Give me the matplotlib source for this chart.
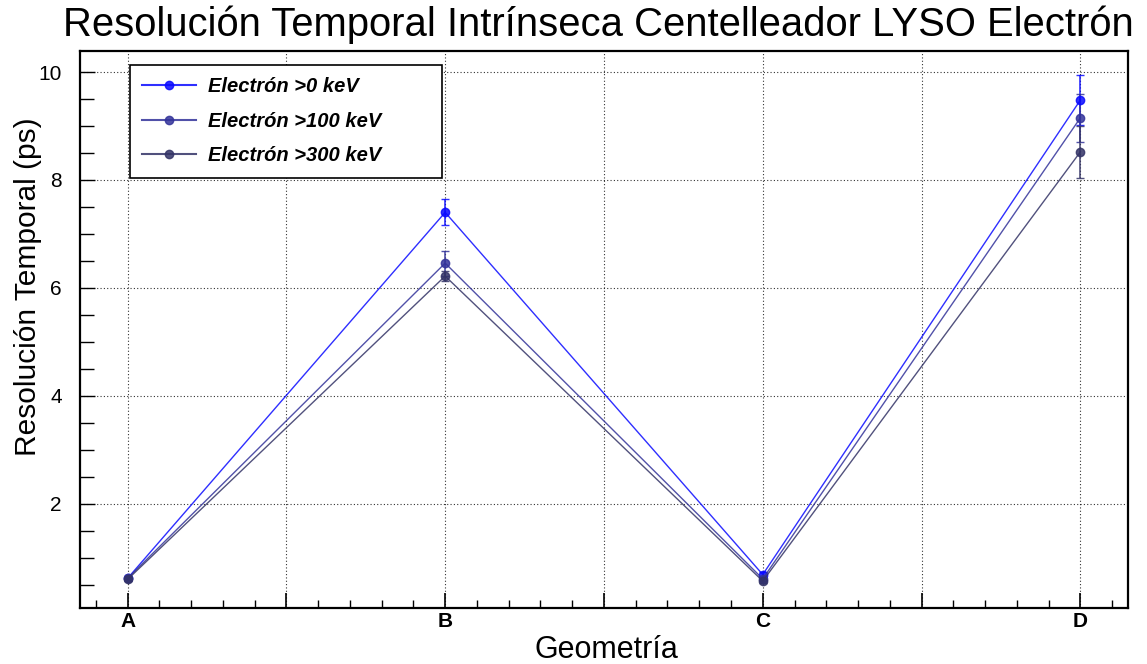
import matplotlib
matplotlib.use('Agg')
import matplotlib.pyplot as plt
from matplotlib.ticker import MultipleLocator
from matplotlib.lines import Line2D

plt.rcParams['font.family'] = ['Liberation Sans', 'DejaVu Sans']

# ___data___
geometries = ['A', 'B', 'C', 'D']
labels = ['Electrón >0 keV', 'Electrón >100 keV', 'Electrón >300 keV']
res_0kev = [0.62, 7.40, 0.69, 9.48]
err_0kev = [0.03, 0.24, 0.04, 0.46]
res_100kev = [0.62, 6.46, 0.61, 9.15]
err_100kev = [0.03, 0.23, 0.04, 0.45]
res_300kev = [0.60, 6.22, 0.57, 8.52]
err_300kev = [0.03, 0.10, 0.04, 0.48]
colors = ['#0a0aff', '#33339a', '#333366']

x = list(range(len(geometries)))

fig = plt.figure(figsize=(11.47, 6.64), dpi=100)
ax = fig.add_axes([0.0697, 0.0843, 0.9137, 0.8389])

series = [(res_0kev, err_0kev), (res_100kev, err_100kev), (res_300kev, err_300kev)]
handles = []
for (vals, errs), col, lab in zip(series, colors, labels):
    ax.errorbar(x, vals, yerr=errs, color=col, marker='o', markersize=6,
                linewidth=1.0, elinewidth=1.2, capsize=3, capthick=1.0,
                alpha=0.85, zorder=3)
    handles.append(Line2D([], [], color=col, marker='o', markersize=6,
                          linewidth=1.5, alpha=0.85, label=lab))

ax.set_xlim(-0.15, 3.15)
ax.set_ylim(0.07, 10.39)

# x axis: labels at each geometry, ticks every 0.1, long every 0.5
ax.xaxis.set_minor_locator(MultipleLocator(0.1))
ax.set_xticks([i * 0.5 for i in range(7)])
ax.set_xticklabels(['A', '', 'B', '', 'C', '', 'D'], fontsize=15, fontweight='bold')
ax.yaxis.set_major_locator(MultipleLocator(2))
ax.yaxis.set_minor_locator(MultipleLocator(0.5))
ax.tick_params(axis='both', which='both', direction='in', top=False, right=False, color='black')
ax.tick_params(axis='x', which='major', length=11, width=1.2, pad=3)
ax.tick_params(axis='x', which='minor', length=6, width=1.0)
ax.tick_params(axis='y', which='major', length=11, width=1.0, labelsize=15, pad=13)
ax.tick_params(axis='y', which='minor', length=10, width=1.0)

ax.grid(True, which='major', linestyle=(0, (1, 2)), color='black', linewidth=0.8, alpha=0.8)
for s in ax.spines.values():
    s.set_linewidth(1.6)

ax.set_xlabel('Geometría', fontsize=22)
ax.xaxis.set_label_coords(0.502, -0.048)
ax.set_ylabel('Resolución Temporal (ps)', fontsize=21.5)
ax.yaxis.set_label_coords(-0.036, 0.576)
fig.text(0.522, 0.962, 'Resolución Temporal Intrínseca Centelleador LYSO Electrón',
         ha='center', va='center', fontsize=28.8)

leg = ax.legend(handles=handles, loc='upper left',
                bbox_to_anchor=(0.048, 0.777, 0.297, 0.198), mode='expand',
                frameon=True, fancybox=False, edgecolor='black', framealpha=1,
                prop={'size': 14.5, 'weight': 'bold', 'style': 'italic'},
                handlelength=2.65, labelspacing=0.78, borderpad=0.6,
                handletextpad=0.6, borderaxespad=0)
leg.get_frame().set_linewidth(1.2)

fig.savefig('out.png', dpi=100)
